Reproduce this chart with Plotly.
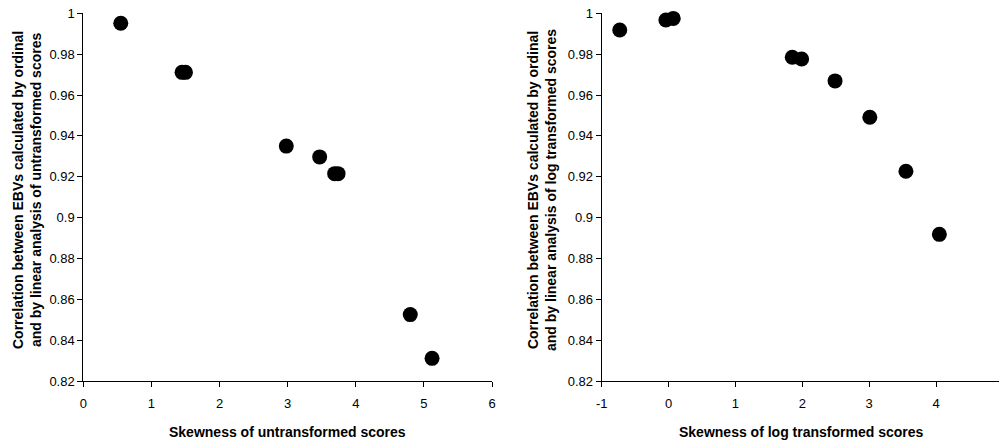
import plotly.graph_objects as go

# Left panel: untransformed scores
skew_untrans = [0.55, 1.45, 1.50, 2.98, 3.47, 3.69, 3.74, 4.80, 5.12]
corr_untrans = [0.9951, 0.9711, 0.9711, 0.9350, 0.9297, 0.9215, 0.9215, 0.8525, 0.8311]

# Right panel: log transformed scores
skew_log = [-0.73, -0.04, 0.07, 1.85, 1.99, 2.49, 3.01, 3.55, 4.05]
corr_log = [0.9918, 0.9967, 0.9975, 0.9785, 0.9776, 0.9669, 0.9491, 0.9227, 0.8918]

y_ticks = [0.82, 0.84, 0.86, 0.88, 0.9, 0.92, 0.94, 0.96, 0.98, 1.0]
y_tick_text = ["0.82", "0.84", "0.86", "0.88", "0.9", "0.92", "0.94", "0.96", "0.98", "1"]
x_ticks_left = [0, 1, 2, 3, 4, 5, 6]
x_tick_text_left = ["0", "1", "2", "3", "4", "5", "6"]
x_ticks_right = [-1, 0, 1, 2, 3, 4]
x_tick_text_right = ["-1", "0", "1", "2", "3", "4"]

xtitle_left = "Skewness of untransformed scores"
xtitle_right = "Skewness of log transformed scores"
ytitle_left = ["Correlation between EBVs calculated by ordinal",
               "and by linear analysis of untransformed scores"]
ytitle_right = ["Correlation between EBVs calculated by ordinal",
                "and by linear analysis of log transformed scores"]

W, H = 999, 443
FONT = "Liberation Sans, Arial, sans-serif"

fig = go.Figure()
marker = dict(color="black", size=15, symbol="circle", line=dict(width=0))
fig.add_trace(go.Scatter(x=skew_untrans, y=corr_untrans, mode="markers", cliponaxis=False,
                         marker=marker, xaxis="x", yaxis="y", showlegend=False))
fig.add_trace(go.Scatter(x=skew_log, y=corr_log, mode="markers", cliponaxis=False,
                         marker=marker, xaxis="x2", yaxis="y2", showlegend=False))

ydom = [1 - 381 / H, 1 - 13.3 / H]
axis_common = dict(showgrid=False, zeroline=False, showline=True, linecolor="black",
                   linewidth=1, ticks="outside", ticklen=5, tickcolor="black",
                   automargin=False,
                   tickfont=dict(family=FONT, size=13, color="black"))

fig.update_layout(
    template="none",
    width=W, height=H,
    margin=dict(l=0, r=0, t=0, b=0, pad=0),
    paper_bgcolor="white", plot_bgcolor="white",
    xaxis=dict(domain=[83.3 / W, 492 / W], range=[0, 6], tickvals=x_ticks_left,
               ticktext=x_tick_text_left, anchor="y", ticklabelstandoff=5, **axis_common),
    yaxis=dict(domain=ydom, range=[0.82, 1.0], tickvals=y_ticks, ticktext=y_tick_text,
               anchor="x", **axis_common),
    xaxis2=dict(domain=[601.7 / W, 1.0], range=[-1, 4.942], tickvals=x_ticks_right,
                ticktext=x_tick_text_right, anchor="y2", ticklabelstandoff=5, **axis_common),
    yaxis2=dict(domain=ydom, range=[0.82, 1.0], tickvals=y_ticks, ticktext=y_tick_text,
                anchor="x2", **axis_common),
)

title_font = dict(family=FONT, size=14, color="black")
anns = [
    dict(text="<b>" + xtitle_left + "</b>", x=287.6 / W, y=1 - 432 / H),
    dict(text="<b>" + xtitle_right + "</b>", x=801.5 / W, y=1 - 432 / H),
]
for a in anns:
    fig.add_annotation(xref="paper", yref="paper", xanchor="center", yanchor="middle",
                       showarrow=False, font=title_font, **a)

for lines, xc in [(ytitle_left, 27), (ytitle_right, 542)]:
    fig.add_annotation(text="<br>".join("<b>" + s + "</b>" for s in lines),
                       xref="paper", yref="paper", x=xc / W, y=1 - 190 / H,
                       xanchor="center", yanchor="middle", textangle=-90,
                       showarrow=False, font=title_font)

fig.write_html("out.html",
               config={"displayModeBar": False},
               post_script="document.body.style.margin='0';document.body.style.overflow='hidden';")
